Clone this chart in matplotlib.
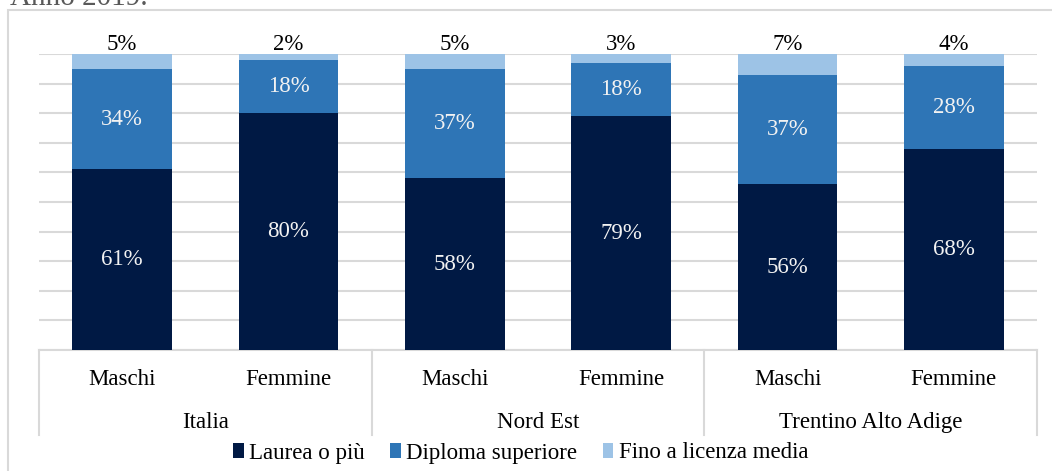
import matplotlib.pyplot as plt
import numpy as np
from matplotlib.patches import Rectangle

plt.rcParams['font.family'] = ['Liberation Serif', 'DejaVu Serif']

# data
groups = ['Italia', 'Nord Est', 'Trentino Alto Adige']
sexes = ['Maschi', 'Femmine']
laurea = [61, 80, 58, 79, 56, 68]
diploma = [34, 18, 37, 18, 37, 28]
licenza = [5, 2, 5, 3, 7, 4]
series_names = ['Laurea o più', 'Diploma superiore', 'Fino a licenza media']
colors = ['#001944', '#2E75B6', '#9DC3E6']

FS = 16.5
W, H = 1052, 471
fig = plt.figure(figsize=(W / 100, H / 100), dpi=100)
ax = fig.add_axes([39 / W, 1 - 350 / H, 998 / W, 296 / H])

# outer frame of the chart area (right/bottom edges run off the image)
fig.patches.append(Rectangle((8 / W, -0.5), 1.5, 1.5 - 10 / H, transform=fig.transFigure,
                             fill=False, edgecolor='#D9D9D9', lw=1.5))
fig.text(10 / W, 1 - 5 / H, 'Anno 2019.', fontsize=21, color='#595959', va='baseline')

x = np.arange(len(laurea))
bottom = np.zeros(len(laurea))
for vals, name, col in zip([laurea, diploma, licenza], series_names, colors):
    ax.bar(x, vals, 0.6, bottom=bottom, color=col, label=name, zorder=3)
    for xi, b, v in zip(x, bottom, vals):
        if name == 'Fino a licenza media':
            ax.annotate(f'{v}%', (xi, b + v), xytext=(0, -1), textcoords='offset points',
                        ha='center', va='bottom', fontsize=FS, color='black')
        else:
            ax.text(xi, b + v / 2, f'{v}%', ha='center', va='center',
                    fontsize=FS, color='#F2F2F2', zorder=4)
    bottom += vals

ax.set_xlim(-0.5, len(laurea) - 0.5)
ax.set_ylim(0, 100)
ax.set_yticks(np.arange(0, 101, 10))
ax.yaxis.grid(True, color='#D9D9D9', lw=1.5, zorder=0)
ax.tick_params(left=False, labelleft=False, bottom=False, labelbottom=False)
for s in ['top', 'right', 'left']:
    ax.spines[s].set_visible(False)
ax.spines['bottom'].set_color('#D9D9D9')
ax.spines['bottom'].set_linewidth(1.5)

# two-level category axis
tr = ax.get_xaxis_transform()
for i, xi in enumerate(x):
    ax.text(xi, -0.098, sexes[i % 2], transform=tr, ha='center', va='center', fontsize=FS)
for g, name in enumerate(groups):
    ax.text(2 * g + 0.5, -0.245, name, transform=tr, ha='center', va='center', fontsize=FS)
for sep in np.arange(-0.5, len(laurea), 2):
    ax.plot([sep, sep], [0, -0.287], transform=tr, color='#D9D9D9', lw=1.5, clip_on=False)

fig.legend(loc='center', bbox_to_anchor=(0.495, 1 - 453 / H), ncol=3, frameon=False,
           fontsize=FS, handlelength=0.45, handleheight=0.6, handletextpad=0.25,
           columnspacing=1.1)

fig.savefig('out.png', dpi=100)
